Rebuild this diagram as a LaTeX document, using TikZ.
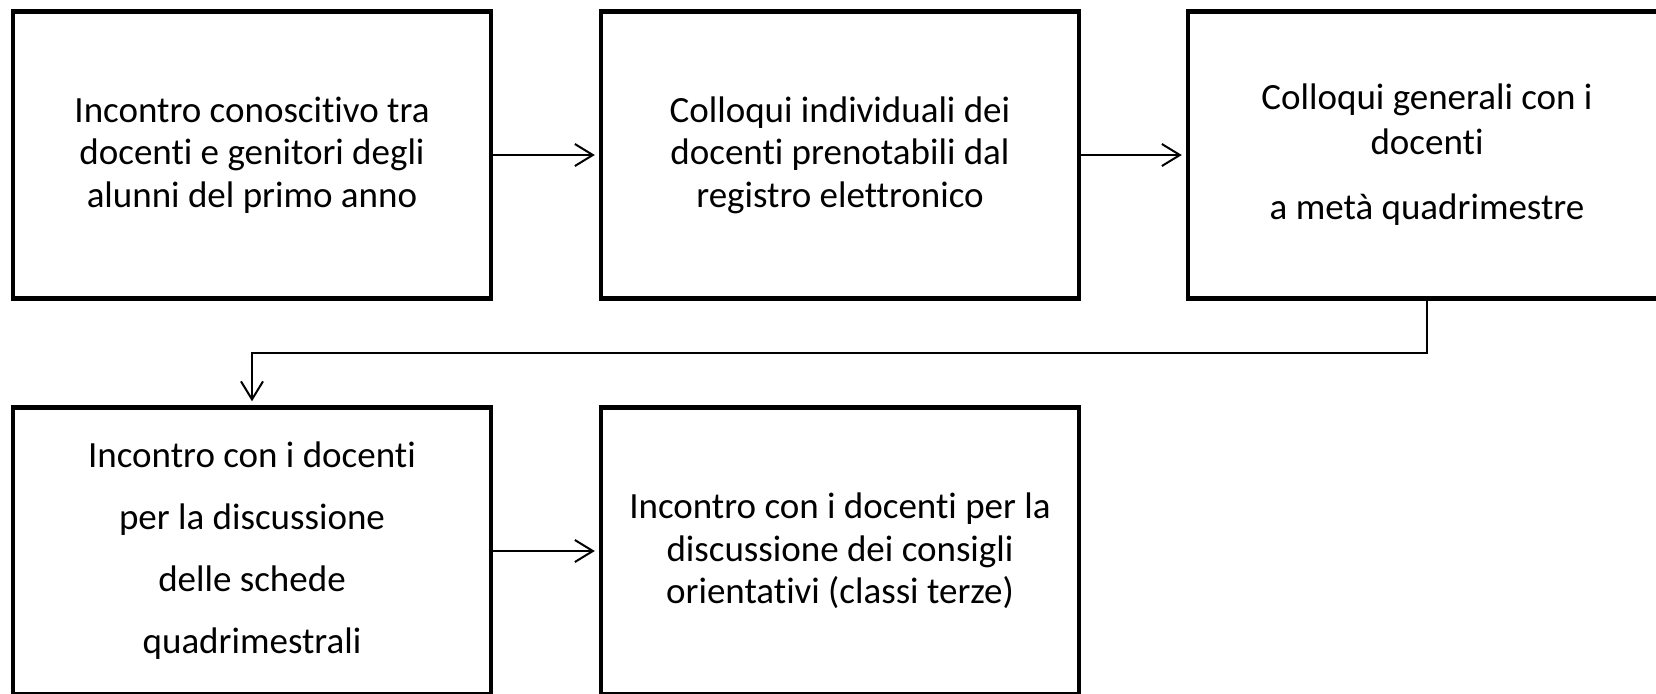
\documentclass[tikz,border=0pt]{standalone}
\usepackage{fontspec}
\setmainfont{Carlito}[Ligatures=NoCommon]
\usetikzlibrary{arrows.meta}
\begin{document}
\begin{tikzpicture}[x=0.5pt,y=-0.5pt,
  stepbox/.style={draw=black,line width=2.2pt,minimum width=239pt,minimum height=143.5pt,
    inner sep=0pt,align=center,font=\fontsize{18.5}{21.2}\selectfont},
  conn/.style={line width=1pt,-{Straight Barb[length=9pt,width=11pt,line width=1pt]},shorten >=2pt}]
\useasboundingbox (0,0) rectangle (1656,693);
\clip (0,0) rectangle (1656,693);
\node[stepbox] (b1) at (252,155) {Incontro conoscitivo tra\\docenti e genitori degli\\alunni del primo anno};
\node[stepbox] (b2) at (840,155) {Colloqui individuali dei\\docenti prenotabili dal\\registro elettronico};
\node[stepbox] (b3) at (1427,155) {Colloqui generali con i\\[1pt]docenti\\[11.5pt]a metà quadrimestre};
\node[stepbox] (b4) at (252,551) {Incontro con i docenti\\[9.8pt]per la discussione\\[9.8pt]delle schede\\[9.8pt]quadrimestrali};
\node[stepbox] (b5) at (840,551) {Incontro con i docenti per la\\discussione dei consigli\\orientativi (classi terze)};
\coordinate (m) at (0,353);
\draw[conn] (b1.east) -- (b2.west);
\draw[conn] (b2.east) -- (b3.west);
\draw[conn] (b4.east) -- (b5.west);
\draw[conn] (b3.south) -- (b3.south |- m) -- (b4.north |- m) -- (b4.north);
\end{tikzpicture}
\end{document}
